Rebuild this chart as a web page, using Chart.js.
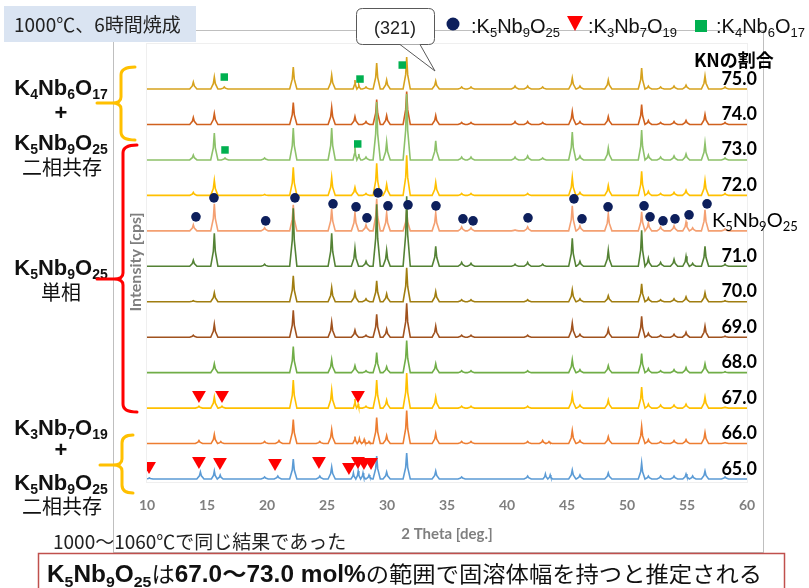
<!DOCTYPE html>
<html>
<head>
<meta charset="utf-8">
<script src="https://cdn.jsdelivr.net/npm/chart.js@4.4.1/dist/chart.umd.min.js"></script>
<style>
  html, body { margin: 0; padding: 0; background: #ffffff; }
  canvas { display: block; }
</style>
</head>
<body>
<canvas id="xrd" width="809" height="588"></canvas>
<script>
// KN ratio (mol%) of each measured pattern, bottom to top; "K5Nb9O25" is the reference pattern
const compositions = ['65.0', '66.0', '67.0', '68.0', '69.0', '70.0', '71.0', 'K5Nb9O25', '72.0', '73.0', '74.0', '75.0'];
const traceColors = ['#5B9BD5', '#ED7D31', '#FFC000', '#70AD47', '#A0521E', '#A07D10', '#548235', '#F4A072', '#FFC000', '#8DC16A', '#D0611E', '#D6A21E'];

// Peak lists per pattern: [2theta (deg), relative intensity]
const peaks65 = [[10.2,1],[14.45,7],[15.61,8],[16.1,4],[19.8,2],[20.9,3],[22.19,20],[24.4,3],[25.39,12],[27.2,6],[27.6,8],[28.0,6],[28.5,4],[29.14,23],[29.97,7],[31.64,26],[34.06,8],[36.22,2],[41.72,3],[43.2,5],[43.6,4],[45.44,9],[46.08,4],[48.44,6],[51.22,16],[51.78,3],[52.8,3],[53.92,3],[54.92,5],[55.47,3],[56.5,8],[58.17,2]];
const peaks66 = [[14.33,3],[15.61,9],[16.15,2],[19.8,2],[21.0,3],[22.19,24],[24.4,2],[25.39,14],[27.33,7],[27.7,5],[28.1,4],[28.5,2],[29.14,26],[29.97,8],[31.64,33],[34.06,10],[36.22,2],[37.0,2],[41.72,2],[42.97,3],[43.5,2],[45.44,13],[46.08,3],[48.44,7],[51.22,17],[51.78,4],[52.8,2],[53.92,3],[54.92,4],[56.5,11],[58.17,1]];
const peaks67 = [[14.33,2],[15.61,11],[16.25,2],[22.19,28],[25.39,18],[27.33,9],[27.6,4],[28.25,2],[29.14,28],[29.97,8],[31.64,35],[34.06,11],[36.22,2],[37.0,2],[41.72,2],[45.44,13],[46.08,3],[48.44,8],[51.22,21],[51.78,4],[52.8,3],[53.92,3],[54.92,4],[56.5,11],[58.17,1]];
const peaks68 = [[15.61,9],[22.19,26],[25.39,13],[27.33,7],[28.25,2],[29.14,20],[29.97,6],[31.64,32],[34.06,9],[36.22,2],[37.0,2],[41.72,2],[45.44,13],[46.08,3],[48.44,7],[51.22,19],[51.78,4],[52.8,2],[53.92,3],[54.92,5],[56.5,9],[58.17,1]];
const peaks69 = [[13.86,2],[15.61,13],[22.19,27],[25.39,15],[27.33,7],[28.25,2],[29.14,23],[29.97,8],[31.64,34],[34.06,11],[36.22,2],[37.0,2],[41.72,2],[45.44,14],[46.08,3],[48.44,8],[51.22,21],[51.78,4],[52.8,2],[53.92,3],[54.92,5],[56.5,11],[58.17,1]];
const peaks70 = [[13.86,1],[15.61,9],[22.19,26],[25.39,14],[27.33,9],[28.25,3],[29.14,21],[29.97,8],[31.64,34],[34.06,10],[36.22,2],[37.0,2],[41.72,2],[45.44,12],[46.08,3],[48.44,6],[51.22,18],[51.78,4],[52.8,2],[53.92,3],[54.92,5],[56.5,9],[58.17,1]];
const peaks71 = [[13.86,6],[15.61,33],[19.8,2],[22.19,58],[25.39,33],[27.33,18],[28.25,5],[29.14,62],[29.97,16],[31.64,70],[34.06,20],[36.22,4],[37.0,3],[40.67,2],[41.72,4],[42.97,2],[45.44,28],[46.08,5],[48.44,16],[51.22,36],[51.78,8],[52.8,4],[53.92,7],[54.92,10],[55.47,3],[56.5,20],[58.17,2]];
const peaksRef = [[13.86,6],[15.61,27],[19.8,3],[22.19,26],[25.39,22],[27.33,18],[28.25,6],[29.14,32],[29.97,18],[31.64,20],[34.06,18],[36.22,4],[37.0,3],[40.67,1],[41.72,4],[45.44,25],[46.08,5],[48.44,17],[51.22,19],[51.78,8],[52.8,4],[53.92,5],[54.92,9],[55.47,3],[56.5,21],[58.17,2]];
const peaks72 = [[13.86,3],[15.61,15],[19.8,1],[22.19,28],[25.39,18],[27.33,8],[28.25,2],[29.14,32],[29.97,11],[31.64,40],[34.06,13],[36.22,2],[37.0,2],[41.72,2],[45.44,18],[46.08,3],[48.44,10],[51.22,24],[51.78,4],[52.8,2],[53.92,3],[54.92,5],[56.5,15],[58.17,2]];
const peaks73 = [[13.86,5],[15.61,27],[16.5,2],[19.8,2],[22.19,32],[25.39,32],[27.33,13],[27.65,6],[28.25,3],[29.14,58],[29.97,18],[31.64,66],[34.06,19],[36.22,3],[37.0,3],[40.67,3],[41.72,4],[42.97,2],[45.44,28],[46.08,4],[48.44,12],[51.22,30],[51.78,5],[52.8,3],[53.92,4],[54.92,6],[56.5,17],[58.17,2]];
const peaks74 = [[13.86,7],[15.61,11],[22.19,22],[25.39,17],[27.33,8],[28.25,3],[29.14,25],[29.97,9],[31.64,33],[34.06,9],[36.22,2],[37.0,2],[40.67,3],[41.72,3],[42.97,2],[45.44,13],[46.08,3],[48.44,8],[51.22,20],[51.78,4],[52.8,2],[53.92,3],[54.92,4],[56.5,10],[58.17,2]];
const peaks75 = [[13.86,7],[15.61,12],[16.44,2],[22.19,22],[25.39,14],[27.33,9],[27.65,4],[28.25,2],[29.14,26],[29.97,9],[31.64,32],[34.06,8],[36.22,2],[37.0,2],[40.67,3],[41.72,3],[42.97,2],[45.44,11],[46.08,3],[48.44,9],[51.22,21],[51.78,3],[52.8,2],[53.92,3],[54.92,4],[56.5,13],[58.17,2]];
const peakLists = [peaks65, peaks66, peaks67, peaks68, peaks69, peaks70, peaks71, peaksRef, peaks72, peaks73, peaks74, peaks75];

// Phase markers: [2theta, height above the pattern's baseline]
const k5Nb9O25Marks = [[14.08,14],[15.58,33],[19.89,10],[22.33,33],[25.5,27],[27.42,24],[28.33,13],[29.25,38],[30.08,25],[31.75,26],[34.08,25],[36.33,12],[37.17,10],[41.75,13],[45.58,32],[46.25,12],[48.42,24],[51.42,25],[51.92,14],[53.0,10],[54.0,12],[55.17,16],[56.67,27]];
const k3Nb7O19Marks67 = [[14.33,13],[16.25,13],[27.58,13]];
const k3Nb7O19Marks65 = [[10.17,13],[14.33,18],[16.08,17],[20.67,16],[24.33,18],[26.83,12],[27.58,18],[28.08,17],[28.67,17]];
const k4Nb6O17Marks75 = [[16.44,12],[27.75,10],[31.27,24]];
const k4Nb6O17Marks73 = [[16.5,10],[27.56,16]];

const xTicks = [10, 15, 20, 25, 30, 35, 40, 45, 50, 55, 60];

// vertical spacing between stacked patterns
const STACK_STEP = 35.45;
const offsetOf = i => i * STACK_STEP;

function buildProfile(peaks, offset) {
  const pts = [{ x: 10, y: offset }];
  const s = [...peaks].sort((a, b) => a[0] - b[0]);
  s.forEach((p, i) => {
    const prev = i > 0 ? s[i - 1][0] : -Infinity;
    const next = i < s.length - 1 ? s[i + 1][0] : Infinity;
    const w = Math.min(0.3, (p[0] - prev) / 2, (next - p[0]) / 2);
    pts.push({ x: p[0] - w, y: offset },
             { x: p[0] - w * 0.28, y: offset + p[1] * 0.45 },
             { x: p[0], y: offset + p[1] },
             { x: p[0] + w * 0.28, y: offset + p[1] * 0.45 },
             { x: p[0] + w, y: offset });
  });
  pts.push({ x: 60, y: offset });
  return pts;
}
const marks = (list, idx) => list.map(m => ({ x: m[0], y: offsetOf(idx) + m[1] }));

const datasets = [];
const markerSets = [
  { data: marks(k5Nb9O25Marks, 7), pointStyle: 'circle', pointRadius: 4.8, color: '#0D1F5C', rot: 0 },
  { data: marks(k3Nb7O19Marks67, 2), pointStyle: 'triangle', pointRadius: 8, color: '#FF0000', rot: 180 },
  { data: marks(k3Nb7O19Marks65, 0), pointStyle: 'triangle', pointRadius: 8, color: '#FF0000', rot: 180 },
  { data: marks(k4Nb6O17Marks75, 11), pointStyle: 'rect', pointRadius: 5.3, color: '#00B050', rot: 0 },
  { data: marks(k4Nb6O17Marks73, 9), pointStyle: 'rect', pointRadius: 5.3, color: '#00B050', rot: 0 }
];
markerSets.forEach(m => datasets.push({
  data: m.data, showLine: false, pointStyle: m.pointStyle, pointRadius: m.pointRadius,
  pointRotation: m.rot, pointBackgroundColor: m.color, pointBorderWidth: 0, pointBorderColor: m.color
}));
compositions.forEach((c, i) => datasets.push({
  label: c, data: buildProfile(peakLists[i], offsetOf(i)),
  borderColor: traceColors[i], borderWidth: 1.6, pointRadius: 0, fill: false, tension: 0
}));

const CJK = '"Noto Sans CJK JP"';
const SANS = '"Liberation Sans", Arial, ' + CJK;

// rich text: runs of {t, font, dy, color}
function drawRuns(ctx, runs, x, y, align) {
  let w = 0;
  runs.forEach(r => { ctx.font = r.font; r.w = ctx.measureText(r.t).width; w += r.w; });
  let cx = align === 'center' ? x - w / 2 : align === 'right' ? x - w : x;
  ctx.textAlign = 'left';
  ctx.textBaseline = 'alphabetic';
  runs.forEach(r => { ctx.font = r.font; ctx.fillStyle = r.color; ctx.fillText(r.t, cx, y + (r.dy || 0)); cx += r.w; });
  return w;
}
function formula(str, size, subSize, weight, family, color) {
  const runs = [];
  const re = /(\d+)|(\D+)/g;
  let m;
  while ((m = re.exec(str))) {
    if (m[1]) runs.push({ t: m[1], font: `${weight} ${subSize}px ${family}`, dy: size * 0.2, color });
    else runs.push({ t: m[2], font: `${weight} ${size}px ${family}`, dy: 0, color });
  }
  return runs;
}
function brace(ctx, x, top, mid, bottom, tipX, stubX, color) {
  ctx.save();
  ctx.strokeStyle = color;
  ctx.lineWidth = 3;
  ctx.lineCap = 'round';
  ctx.beginPath();
  ctx.moveTo(stubX, top);
  ctx.quadraticCurveTo(x, top, x, top + 8);
  ctx.lineTo(x, mid - 6);
  ctx.quadraticCurveTo(x, mid, x - 9, mid);
  ctx.lineTo(tipX, mid);
  ctx.moveTo(x - 9, mid);
  ctx.quadraticCurveTo(x, mid, x, mid + 6);
  ctx.lineTo(x, bottom - 8);
  ctx.quadraticCurveTo(x, bottom, stubX, bottom);
  ctx.stroke();
  ctx.restore();
}
function roundRect(ctx, x, y, w, h, r) {
  ctx.beginPath();
  ctx.moveTo(x + r, y);
  ctx.lineTo(x + w - r, y); ctx.quadraticCurveTo(x + w, y, x + w, y + r);
  ctx.lineTo(x + w, y + h - r); ctx.quadraticCurveTo(x + w, y + h, x + w - r, y + h);
  ctx.lineTo(x + r, y + h); ctx.quadraticCurveTo(x, y + h, x, y + h - r);
  ctx.lineTo(x, y + r); ctx.quadraticCurveTo(x, y, x + r, y);
  ctx.closePath();
}

const decorations = {
  id: 'decorations',
  beforeDraw(chart) {
    const ctx = chart.ctx;
    const a = chart.chartArea;
    ctx.save();
    ctx.fillStyle = '#ffffff';
    ctx.fillRect(0, 0, chart.width, chart.height);
    ctx.strokeStyle = '#BFBFBF';
    ctx.lineWidth = 1;
    ctx.strokeRect(113.5, 30.5, 650, 522);
    ctx.strokeStyle = '#EFEFEF';
    ctx.strokeRect(a.left - 0.5, a.top + 0.5, a.right - a.left + 1, a.bottom - a.top);
    ctx.restore();
  },
  afterDraw(chart) {
    const ctx = chart.ctx;
    const ys = chart.scales.y;
    ctx.save();

    // pattern labels on the right
    compositions.forEach((c, i) => {
      const yb = ys.getPixelForValue(offsetOf(i));
      if (c === 'K5Nb9O25') {
        drawRuns(ctx, formula(c, 20, 13, 'normal', 'Lato', '#000'), 712, yb - 4, 'left');
      } else {
        ctx.font = 'bold 18px Lato';
        ctx.fillStyle = '#000';
        ctx.textAlign = 'right';
        ctx.textBaseline = 'alphabetic';
        ctx.fillText(c, 757, yb - 4.5);
      }
    });
    ctx.font = `bold 18px ${CJK}`;
    ctx.fillStyle = '#000';
    ctx.textAlign = 'left';
    ctx.fillText('KNの割合', 694, 67);

    // axis titles
    ctx.fillStyle = '#7F7F7F';
    ctx.font = 'bold 15px Lato';
    ctx.textAlign = 'center';
    ctx.textBaseline = 'middle';
    ctx.fillText('2 Theta [deg.]', 447, 534);
    ctx.save();
    ctx.translate(136, 262);
    ctx.rotate(-Math.PI / 2);
    ctx.font = 'bold 16px Lato';
    ctx.fillText('Intensity [cps]', 0, 0);
    ctx.restore();

    // legend
    ctx.fillStyle = '#0D1F5C';
    ctx.beginPath(); ctx.arc(453, 24, 6.5, 0, Math.PI * 2); ctx.fill();
    drawRuns(ctx, formula(':K5Nb9O25', 20, 13, 'normal', SANS, '#111'), 471, 33, 'left');
    ctx.fillStyle = '#FF0000';
    ctx.beginPath(); ctx.moveTo(567, 16); ctx.lineTo(583, 16); ctx.lineTo(575, 31); ctx.closePath(); ctx.fill();
    drawRuns(ctx, formula(':K3Nb7O19', 20, 13, 'normal', SANS, '#111'), 588, 33, 'left');
    ctx.fillStyle = '#00B050';
    ctx.fillRect(695, 20, 12, 12);
    drawRuns(ctx, formula(':K4Nb6O17', 20, 13, 'normal', SANS, '#111'), 716, 33, 'left');

    // title box
    ctx.fillStyle = '#DAE4F2';
    ctx.fillRect(4, 6, 192, 36);
    ctx.fillStyle = '#222';
    ctx.font = `19px ${CJK}`;
    ctx.textAlign = 'left';
    ctx.textBaseline = 'alphabetic';
    ctx.fillText('1000℃、6時間焼成', 14, 32);

    // (321) callout
    roundRect(ctx, 356.5, 8.5, 78, 36, 6);
    ctx.fillStyle = '#ffffff';
    ctx.fill();
    ctx.strokeStyle = '#595959';
    ctx.lineWidth = 1;
    ctx.stroke();
    ctx.beginPath();
    ctx.moveTo(400, 44.5); ctx.lineTo(435, 71); ctx.lineTo(420, 44.5);
    ctx.fillStyle = '#ffffff';
    ctx.fill();
    ctx.stroke();
    ctx.fillStyle = '#222';
    ctx.font = `18px ${SANS}`;
    ctx.textAlign = 'center';
    ctx.fillText('(321)', 395, 34);

    // phase region labels
    const L = 61;
    drawRuns(ctx, formula('K4Nb6O17', 22, 14, 'bold', SANS, '#111'), L, 95, 'center');
    ctx.font = `bold 22px ${SANS}`; ctx.fillStyle = '#111'; ctx.textAlign = 'center';
    ctx.fillText('+', L, 120);
    drawRuns(ctx, formula('K5Nb9O25', 22, 14, 'bold', SANS, '#111'), L, 150, 'center');
    ctx.font = `20px ${CJK}`; ctx.fillStyle = '#111'; ctx.textAlign = 'center';
    ctx.fillText('二相共存', L + 1, 175);

    drawRuns(ctx, formula('K5Nb9O25', 22, 14, 'bold', SANS, '#111'), L, 275, 'center');
    ctx.font = `20px ${CJK}`; ctx.fillStyle = '#111'; ctx.textAlign = 'center';
    ctx.fillText('単相', L, 300);

    drawRuns(ctx, formula('K3Nb7O19', 22, 14, 'bold', SANS, '#111'), L, 435, 'center');
    ctx.font = `bold 22px ${SANS}`; ctx.fillStyle = '#111'; ctx.textAlign = 'center';
    ctx.fillText('+', L, 457);
    drawRuns(ctx, formula('K5Nb9O25', 22, 14, 'bold', SANS, '#111'), L, 490, 'center');
    ctx.font = `20px ${CJK}`; ctx.fillStyle = '#111'; ctx.textAlign = 'center';
    ctx.fillText('二相共存', L + 1, 514);

    brace(ctx, 121, 67, 103, 140, 97, 135, '#FFC000');
    brace(ctx, 123, 145, 279, 412, 97, 137, '#FF0000');
    brace(ctx, 122, 435, 465, 493, 100, 133, '#FFC000');

    // notes
    ctx.font = `19px ${CJK}`; ctx.fillStyle = '#222'; ctx.textAlign = 'left';
    ctx.fillText('1000〜1060℃で同じ結果であった', 53, 549);

    ctx.fillStyle = '#ffffff';
    ctx.fillRect(38, 553, 747, 40);
    ctx.strokeStyle = '#C0504D';
    ctx.lineWidth = 1.5;
    ctx.strokeRect(38.5, 553.5, 746, 40);
    const runs = [
      ...formula('K5Nb9O25', 23, 15, 'bold', SANS, '#111'),
      { t: 'は', font: `22px ${CJK}`, dy: 0, color: '#111' },
      { t: '67.0〜73.0 mol%', font: `bold 23px ${SANS}`, dy: 0, color: '#111' },
      { t: 'の範囲で固溶体幅を持つと推定される', font: `22px ${CJK}`, dy: 0, color: '#111' }
    ];
    let total = 0;
    runs.forEach(r => { ctx.font = r.font; total += ctx.measureText(r.t).width; });
    const sx = 715 / total;
    ctx.save();
    ctx.translate(47, 582);
    ctx.scale(sx, 1);
    drawRuns(ctx, runs, 0, 0, 'left');
    ctx.restore();

    ctx.restore();
  }
};

new Chart(document.getElementById('xrd'), {
  type: 'line',
  data: { datasets },
  options: {
    responsive: false,
    animation: false,
    events: [],
    layout: { padding: { left: 147, right: 62, top: 43, bottom: 0 } },
    plugins: { legend: { display: false }, tooltip: { enabled: false } },
    scales: {
      x: {
        type: 'linear', min: 10, max: 60,
        afterBuildTicks: s => { s.ticks = xTicks.map(v => ({ value: v })); },
        ticks: { font: { family: 'Lato', size: 14, weight: 'bold' }, color: '#7F7F7F', padding: 15, maxRotation: 0 },
        grid: { display: false, drawTicks: false },
        border: { display: false },
        afterFit: s => { s.height = 106; }
      },
      y: { display: false, min: -3, max: 436 }
    }
  },
  plugins: [decorations]
});
</script>
</body>
</html>
